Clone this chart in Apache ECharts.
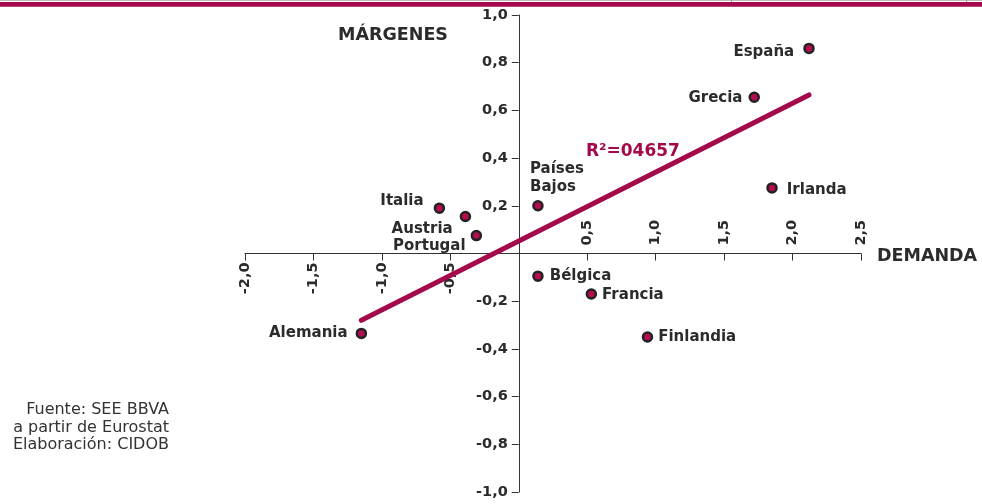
<!DOCTYPE html>
<html><head><meta charset="utf-8">
<script src="https://cdn.jsdelivr.net/npm/echarts@6/dist/echarts.min.js"></script>
<style>html,body{margin:0;padding:0;background:#fff}#c{width:982px;height:504px}</style>
</head><body><div id="c"></div>
<script>
// ---- data ----
const countries = ['España','Grecia','Irlanda','Países\nBajos','Italia','Austria','Portugal','Bélgica','Francia','Finlandia','Alemania'];
const demanda  = [2.12, 1.72, 1.85, 0.14, -0.58, -0.39, -0.31, 0.14, 0.53, 0.94, -1.15];
const margenes = [0.86, 0.655, 0.275, 0.20, 0.19, 0.155, 0.075, -0.095, -0.17, -0.35, -0.335];
const trendX = [-1.15, 2.12];
const trendY = [-0.28, 0.665];
const xTickValues = [-2.0, -1.5, -1.0, -0.5, 0.5, 1.0, 1.5, 2.0, 2.5];
const yTickValues = [-1.0, -0.8, -0.6, -0.4, -0.2, 0.2, 0.4, 0.6, 0.8, 1.0];
const r2Text = 'R²=04657';
const xAxisName = 'DEMANDA';
const yAxisName = 'MÁRGENES';
const sourceLines = ['Fuente: SEE BBVA', 'a partir de Eurostat', 'Elaboración: CIDOB'];

// ---- styles ----
const MAG = '#a3094b';
const DOT = '#b60d51';
const DARK = '#2b2b2b';
const FONT = '"DejaVu Sans", sans-serif';
const labelPlacement = {
  'España':      {position:'left',  distance:9,  offset:[0,4]},
  'Grecia':      {position:'left',  distance:6,  offset:[0,1]},
  'Irlanda':     {position:'right', distance:9,  offset:[0,2]},
  'Países\nBajos':{position:'top',  distance:4,  offset:[-8,0], align:'left'},
  'Italia':      {position:'left',  distance:10, offset:[0,-7]},
  'Austria':     {position:'left',  distance:7,  offset:[0,13]},
  'Portugal':    {position:'left',  distance:5,  offset:[0,10]},
  'Bélgica':     {position:'right', distance:6,  offset:[0,0]},
  'Francia':     {position:'right', distance:5,  offset:[0,1]},
  'Finlandia':   {position:'right', distance:5,  offset:[0,0]},
  'Alemania':    {position:'left',  distance:8,  offset:[0,0]}
};
const fmt = v => v.toFixed(1).replace('.', ',');
const tickFont = {fontFamily: FONT, fontWeight:'bold', fontSize:14.5, color:'#2b2b2b'};

const chart = echarts.init(document.getElementById('c'), null, {renderer:'canvas'});
const scatterData = countries.map((n,i) => ({
  name: n, value: [demanda[i], margenes[i]],
  label: Object.assign({show:true, formatter: n, color: DARK, fontFamily: FONT,
    fontWeight:'bold', fontSize:15, lineHeight:18}, labelPlacement[n])
}));
const yTickData = yTickValues.map(v => ({
  value:[0, v],
  label:Object.assign({show:true, formatter: fmt(v), position:'left', distance:11}, tickFont)
}));
const xTickData = xTickValues.map(v => ({
  value:[v, 0],
  label:Object.assign({show:true, formatter: fmt(v), rotate:90, verticalAlign:'middle'},
    v < 0 ? {position:'bottom', distance:9, align:'right'} : {position:'top', distance:8, align:'left'},
    tickFont)
}));

chart.setOption({
  animation:false,
  backgroundColor:'#fff',
  grid:{left:245, right:121, top:15, bottom:12, containLabel:false, outerBoundsMode:'none'},
  xAxis:{
    type:'value', min:-2, max:2.5, interval:0.5,
    axisLine:{onZero:true, lineStyle:{color:'#333', width:1}},
    axisTick:{show:true, length:7, lineStyle:{color:'#333'}},
    splitLine:{show:false},
    axisLabel:{show:false}
  },
  yAxis:{
    type:'value', min:-1, max:1, interval:0.2,
    axisLine:{show:true, onZero:true, lineStyle:{color:'#333', width:1}},
    axisTick:{show:true, length:7, lineStyle:{color:'#333'}},
    splitLine:{show:false},
    axisLabel:{show:false}
  },
  series:[{
    type:'line', data: trendX.map((x,i)=>[x, trendY[i]]),
    symbol:'none', lineStyle:{color:MAG, width:5, cap:'round'}, silent:true, z:2
  },{
    type:'scatter', data: scatterData,
    symbol:'circle', symbolSize:9,
    itemStyle:{color:DOT, borderColor:'#222', borderWidth:2.5, opacity:1}, z:3
  },{
    type:'scatter', data: yTickData, symbolSize:0, silent:true, z:1,
    itemStyle:{opacity:1}, labelLayout:{hideOverlap:false}
  },{
    type:'scatter', data: xTickData, symbolSize:0, silent:true, z:1,
    itemStyle:{opacity:1}, labelLayout:{hideOverlap:false}
  }],
  graphic:[
    {type:'line', shape:{x1:0,y1:0.5,x2:982,y2:0.5}, style:{stroke:'#bbb', lineWidth:1}},
    {type:'line', shape:{x1:731.5,y1:0,x2:731.5,y2:2}, style:{stroke:'#999', lineWidth:1}},
    {type:'line', shape:{x1:966.5,y1:0,x2:966.5,y2:2}, style:{stroke:'#999', lineWidth:1}},
    {type:'rect', shape:{x:0,y:2,width:982,height:4.7}, style:{fill:MAG}},
    {type:'text', left:338, top:26, style:{text:yAxisName, font:'bold 17.5px '+FONT, fill:DARK}},
    {type:'text', left:877, top:247, style:{text:xAxisName, font:'bold 17.5px '+FONT, fill:DARK}},
    {type:'text', left:586, top:143, style:{text:r2Text, font:'bold 17px '+FONT, fill:MAG}}
  ].concat(sourceLines.map((t,i) => ({
    type:'text', right:982-169, top:402 + i*17.5,
    style:{text:t, font:'16px '+FONT, fill:'#333'}
  })))
});
</script>
</body></html>
